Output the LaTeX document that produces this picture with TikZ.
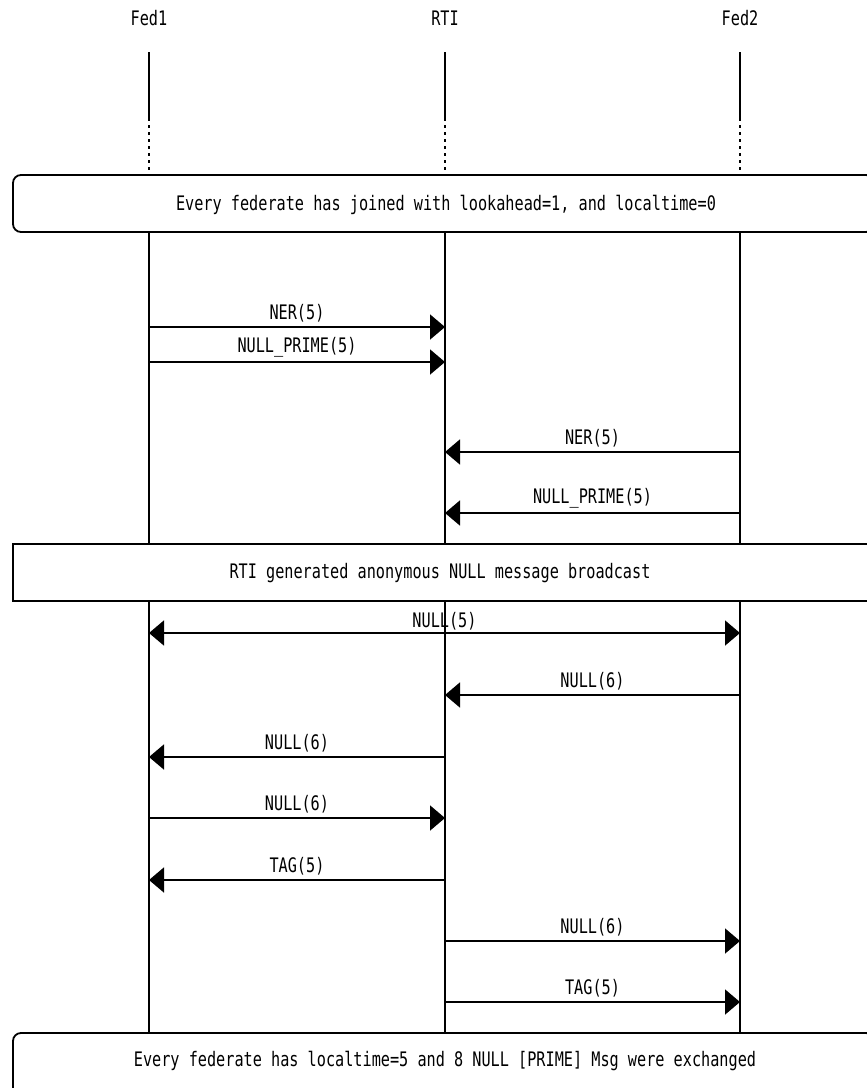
\documentclass[tikz,border=0pt]{standalone}
\usepackage{fontspec}
\usetikzlibrary{arrows.meta}
\newfontfamily\mscfont[FakeStretch=0.76]{DejaVu Sans Mono}
\begin{document}
\begin{tikzpicture}[x=1pt,y=-1pt,
  every node/.style={font=\mscfont\fontsize{20}{22}\selectfont, inner sep=0pt},
  entity/.style={anchor=center},
  life/.style={line width=1.4pt},
  lifedash/.style={line width=1.4pt, dash pattern=on 3pt off 4pt},
  msg/.style={line width=1.8pt, -{Triangle[length=15pt,width=25pt]}},
  msgboth/.style={line width=1.8pt, {Triangle[length=15pt,width=25pt]}-{Triangle[length=15pt,width=25pt]}},
  lbl/.style={midway, above=4pt},
  boxline/.style={line width=1.8pt},
]
\useasboundingbox (0,0) rectangle (867,1088);
\clip (0,0) rectangle (867,1088);
\fill[white] (0,0) rectangle (867,1088);

% entities
\node[entity] (fed1) at (149,18) {Fed1};
\node[entity] (rti)  at (445,18) {RTI};
\node[entity] (fed2) at (740,18) {Fed2};

% vertical markers along the lifelines
\coordinate (l0) at (0,52);
\coordinate (l1) at (0,118);
\coordinate (l2) at (0,175);
\coordinate (l3) at (0,232);
\coordinate (l4) at (0,544);
\coordinate (l5) at (0,601);
\coordinate (l6) at (0,1033);

\foreach \e in {fed1,rti,fed2}{
  \draw[life] (\e |- l0) -- (\e |- l1);
  \draw[lifedash] (\e |- l1) -- (\e |- l2);
  \draw[life] (\e |- l3) -- (\e |- l4);
  \draw[life] (\e |- l5) -- (\e |- l6);
}

% notes
\draw[boxline, rounded corners=8pt] (874,175) -- (13,175) -- (13,232) -- (874,232) -- cycle;
\node (n1) at (446,205) {Every federate has joined with lookahead=1, and localtime=0};

\draw[boxline] (13,544) rectangle (880,601);
\node (n2) at (440,573) {RTI generated anonymous NULL message broadcast};

\draw[boxline, rounded corners=8pt] (874,1033) -- (13,1033) -- (13,1100) -- (874,1100) -- cycle;
\node (n3) at (445,1061) {Every federate has localtime=5 and 8 NULL [PRIME] Msg were exchanged};

% message rows
\coordinate (m1) at (0,327);
\coordinate (m2) at (0,362);
\coordinate (m3) at (0,452);
\coordinate (m4) at (0,513);
\coordinate (m5) at (0,633);
\coordinate (m6) at (0,695);
\coordinate (m7) at (0,757);
\coordinate (m8) at (0,818);
\coordinate (m9) at (0,880);
\coordinate (m10) at (0,941);
\coordinate (m11) at (0,1002);

\draw[msg] (fed1 |- m1) -- (rti |- m1) node[lbl] {NER(5)};
\draw[msg] (fed1 |- m2) -- (rti |- m2) node[lbl] {NULL\_PRIME(5)};
\draw[msg] (fed2 |- m3) -- (rti |- m3) node[lbl] {NER(5)};
\draw[msg] (fed2 |- m4) -- (rti |- m4) node[lbl] {NULL\_PRIME(5)};
\draw[msgboth] (fed1 |- m5) -- (fed2 |- m5) node[midway, above=2pt] {NULL(5)};
\draw[msg] (fed2 |- m6) -- (rti |- m6) node[lbl] {NULL(6)};
\draw[msg] (rti |- m7) -- (fed1 |- m7) node[lbl] {NULL(6)};
\draw[msg] (fed1 |- m8) -- (rti |- m8) node[lbl] {NULL(6)};
\draw[msg] (rti |- m9) -- (fed1 |- m9) node[lbl] {TAG(5)};
\draw[msg] (rti |- m10) -- (fed2 |- m10) node[lbl] {NULL(6)};
\draw[msg] (rti |- m11) -- (fed2 |- m11) node[lbl] {TAG(5)};
\end{tikzpicture}
\end{document}
